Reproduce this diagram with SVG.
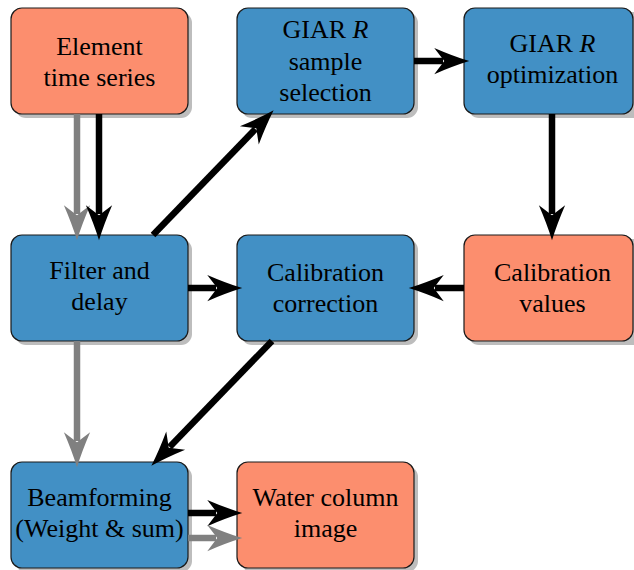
<svg xmlns="http://www.w3.org/2000/svg" width="634" height="570" viewBox="0 0 634 570">
<style>
.shadow{fill:#bdbdbd;}
.box{stroke:#1a1a1a;stroke-width:1.2;}
.blue{fill:#4290c5;}
.orange{fill:#fc8e6e;}
text{font-family:'Liberation Serif', 'Times New Roman', serif;font-size:26px;fill:#000;text-anchor:middle;}
.k{stroke:#000;stroke-width:6.5;fill:none;}
.g{stroke:#808080;stroke-width:6.5;fill:none;}
</style>
<defs>
<marker id="ak" markerUnits="userSpaceOnUse" orient="auto" refX="-21" refY="0" markerWidth="40" markerHeight="40" viewBox="-30 -12 32 24" overflow="visible">
<path d="M0,0 Q-13,-4 -28,-10.5 L-20,0 L-28,10.5 Q-13,4 0,0 Z" fill="#000"/>
</marker>
<marker id="ag" markerUnits="userSpaceOnUse" orient="auto" refX="-21" refY="0" markerWidth="40" markerHeight="40" viewBox="-30 -12 32 24" overflow="visible">
<path d="M0,0 Q-13,-4 -28,-10.5 L-20,0 L-28,10.5 Q-13,4 0,0 Z" fill="#808080"/>
</marker>
</defs>

<g id="node-element">
<rect class="shadow" x="15" y="12" width="177" height="106" rx="11"/>
<rect class="box orange" x="11" y="8" width="177" height="106" rx="11"/>
<text x="99.5" y="55">Element</text>
<text x="99.5" y="86">time series</text>
</g>

<g id="node-sample">
<rect class="shadow" x="241" y="12" width="177" height="106" rx="11"/>
<rect class="box blue" x="237" y="8" width="177" height="106" rx="11"/>
<text x="325.5" y="38">GIAR <tspan font-style="italic">R</tspan></text>
<text x="325.5" y="70">sample</text>
<text x="325.5" y="101">selection</text>
</g>

<g id="node-optim">
<rect class="shadow" x="468" y="12" width="177" height="106" rx="11"/>
<rect class="box blue" x="464" y="8" width="169" height="106" rx="11"/>
<text x="552.5" y="52">GIAR <tspan font-style="italic">R</tspan></text>
<text x="552.5" y="83">optimization</text>
</g>

<g id="node-filter">
<rect class="shadow" x="15" y="239" width="177" height="106" rx="11"/>
<rect class="box blue" x="11" y="235" width="177" height="106" rx="11"/>
<text x="99.5" y="279">Filter and</text>
<text x="99.5" y="310">delay</text>
</g>

<g id="node-calcorr">
<rect class="shadow" x="241" y="239" width="177" height="106" rx="11"/>
<rect class="box blue" x="237" y="235" width="177" height="106" rx="11"/>
<text x="325.5" y="281">Calibration</text>
<text x="325.5" y="312">correction</text>
</g>

<g id="node-calvalues">
<rect class="shadow" x="468" y="239" width="177" height="106" rx="11"/>
<rect class="box orange" x="464" y="235" width="169" height="106" rx="11"/>
<text x="552.5" y="281">Calibration</text>
<text x="552.5" y="312">values</text>
</g>

<g id="node-beam">
<rect class="shadow" x="15" y="466" width="177" height="106" rx="11"/>
<rect class="box blue" x="11" y="462" width="177" height="106" rx="11"/>
<text x="99.5" y="506">Beamforming</text>
<text x="99.5" y="537">(Weight &amp; sum)</text>
</g>

<g id="node-water">
<rect class="shadow" x="241" y="466" width="177" height="106" rx="11"/>
<rect class="box orange" x="237" y="462" width="177" height="106" rx="11"/>
<text x="325.5" y="506">Water column</text>
<text x="325.5" y="537">image</text>
</g>

<g id="connectors">
<line class="g" x1="77" y1="114" x2="77" y2="214" marker-end="url(#ag)"/>
<line class="k" x1="99" y1="114" x2="99" y2="214" marker-end="url(#ak)"/>
<line class="g" x1="77" y1="341" x2="77" y2="441" marker-end="url(#ag)"/>
<line class="k" x1="414" y1="61" x2="443" y2="61" marker-end="url(#ak)"/>
<line class="k" x1="552" y1="114" x2="552" y2="214" marker-end="url(#ak)"/>
<line class="k" x1="188" y1="288" x2="216" y2="288" marker-end="url(#ak)"/>
<line class="k" x1="464" y1="288" x2="435" y2="288" marker-end="url(#ak)"/>
<line class="k" x1="188" y1="513" x2="216" y2="513" marker-end="url(#ak)"/>
<line class="g" x1="188" y1="538" x2="216" y2="538" marker-end="url(#ag)"/>
<line class="k" x1="153" y1="235" x2="255.4" y2="129.1" marker-end="url(#ak)"/>
<line class="k" x1="272" y1="341" x2="169.6" y2="446.9" marker-end="url(#ak)"/>
</g>
</svg>
